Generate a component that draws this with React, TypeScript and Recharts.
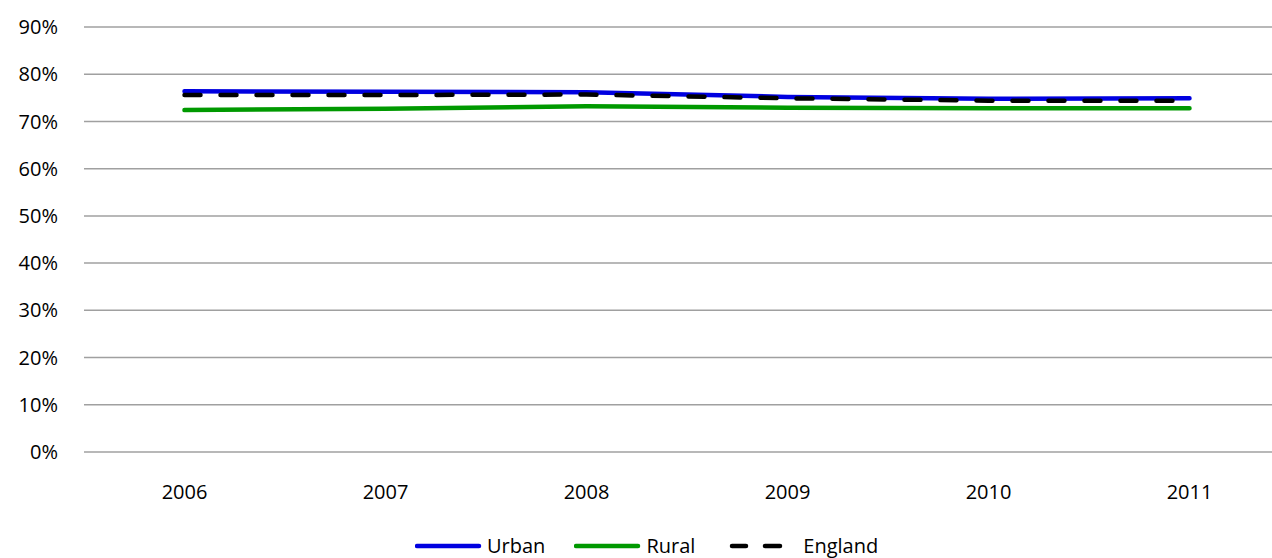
import { LineChart, Line, XAxis, YAxis, CartesianGrid, Legend } from 'recharts';

const years = ['2006', '2007', '2008', '2009', '2010', '2011'];
const urban = [76.4, 76.3, 76.2, 75.2, 74.8, 74.9];
const rural = [72.4, 72.7, 73.2, 72.9, 72.8, 72.8];
const england = [75.6, 75.6, 75.7, 74.9, 74.4, 74.4];
const yTicks = [0, 10, 20, 30, 40, 50, 60, 70, 80, 90];

const data = years.map((year, i) => ({
  year,
  Urban: urban[i],
  Rural: rural[i],
  England: england[i],
}));

const FONT = '"Open Sans", "Noto Sans", sans-serif';

function LegendContent() {
  const text = { fontSize: 20, color: '#000', lineHeight: '24px' };
  return (
    <div style={{ display: 'flex', alignItems: 'center', paddingLeft: 415, fontFamily: FONT }}>
      <svg width={72} height={24}>
        <line x1={2} y1={12} x2={64} y2={12} stroke="#0000e0" strokeWidth={4.5} strokeLinecap="round" />
      </svg>
      <span style={{ ...text, marginRight: 29 }}>Urban</span>
      <svg width={72} height={24}>
        <line x1={2} y1={12} x2={64} y2={12} stroke="#009900" strokeWidth={4.5} strokeLinecap="round" />
      </svg>
      <span style={{ ...text, marginRight: 32 }}>Rural</span>
      <svg width={76} height={24}>
        <line x1={5} y1={12} x2={19} y2={12} stroke="#000" strokeWidth={4.5} strokeLinecap="round" />
        <line x1={38} y1={12} x2={53} y2={12} stroke="#000" strokeWidth={4.5} strokeLinecap="round" />
      </svg>
      <span style={text}>England</span>
    </div>
  );
}

export default function App() {
  return (
    <div style={{ position: 'absolute', left: 0, top: 0, width: 1272, height: 558, overflow: 'hidden', background: '#fff' }}>
      <LineChart
        width={1290}
        height={558}
        data={data}
        margin={{ top: 27, right: 0, left: 0, bottom: 76 }}
        style={{ fontFamily: FONT }}
      >
        <CartesianGrid vertical={false} stroke="#a0a0a0" strokeWidth={1.5} />
        <XAxis
          dataKey="year"
          scale="band"
          axisLine={false}
          tickLine={false}
          tickSize={0}
          tickMargin={33}
          tick={{ fontSize: 20, fill: '#000' }}
          height={30}
        />
        <YAxis
          domain={[0, 90]}
          ticks={yTicks}
          interval={0}
          width={84}
          axisLine={false}
          tickLine={false}
          tickSize={0}
          tickMargin={26}
          tickFormatter={(v: number) => `${v}%`}
          tick={{ fontSize: 20, fill: '#000' }}
        />
        <Legend
          layout="horizontal"
          verticalAlign="middle"
          align="center"
          content={() => <LegendContent />}
          wrapperStyle={{ top: 534, left: 0, width: 1290 }}
        />
        <Line type="linear" dataKey="Urban" stroke="#0000e0" strokeWidth={4.5} dot={false} strokeLinecap="round" isAnimationActive={false} />
        <Line type="linear" dataKey="Rural" stroke="#009900" strokeWidth={4.5} dot={false} strokeLinecap="round" isAnimationActive={false} />
        <Line
          type="linear"
          dataKey="England"
          stroke="#000"
          strokeWidth={4.5}
          strokeDasharray="16 20"
          strokeLinecap="round"
          dot={false}
          isAnimationActive={false}
        />
      </LineChart>
    </div>
  );
}
